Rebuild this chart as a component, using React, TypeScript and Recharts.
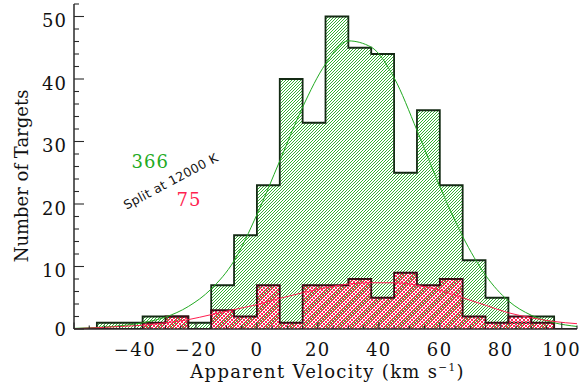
import React from "react";
import {
  ComposedChart,
  Area,
  Line,
  XAxis,
  YAxis,
  ReferenceDot,
} from "recharts";

// bin edges (km/s), each count belongs to the bin starting at that edge
const binEdges = [
  -60, -52.5, -45, -37.5, -30, -22.5, -15, -7.5, 0, 7.5, 15, 22.5, 30, 37.5,
  45, 52.5, 60, 67.5, 75, 82.5, 90, 97.5, 105,
];
const greenCounts = [
  0, 1, 1, 2, 2, 1, 7, 15, 23, 40, 33, 50, 45, 44, 25, 35, 23, 11, 5, 1, 2, 0, 0,
];
const redCounts = [
  0, 0, 0, 1, 2, 0, 3, 2, 7, 1, 7, 7, 8, 5, 9, 7, 8, 2, 1, 2, 1, 0, 0,
];
// gaussian fits at the bin edges
const greenFit = [
  0.1, 0.25, 0.5, 1.0, 1.9, 3.6, 6.4, 10.9, 18.3, 26.9, 35.5, 42.4, 46.1, 45.1,
  40.2, 31.8, 22.8, 14.8, 8.6, 4.5, 2.2, 1.0, 0.4,
];
const redFit = [
  0.05, 0.2, 0.4, 0.6, 1.0, 1.5, 2.3, 3.1, 3.9, 4.9, 5.8, 6.6, 7.2, 7.4, 7.4,
  7.0, 6.2, 5.0, 3.8, 2.6, 1.8, 1.2, 0.85,
];

const xTicks = [
  -60, -55, -50, -45, -40, -35, -30, -25, -20, -15, -10, -5, 0, 5, 10, 15, 20,
  25, 30, 35, 40, 45, 50, 55, 60, 65, 70, 75, 80, 85, 90, 95, 100, 105,
];
const yTicks = [
  0, 2, 4, 6, 8, 10, 12, 14, 16, 18, 20, 22, 24, 26, 28, 30, 32, 34, 36, 38,
  40, 42, 44, 46, 48, 50, 52,
];

const data = binEdges.map((x, i) => ({
  x,
  green: greenCounts[i],
  red: redCounts[i],
  gfit: greenFit[i],
  rfit: redFit[i],
}));

const FONT = "'DejaVu Serif', serif";
const AXIS = "#2a2a2a";
const GREEN = "#22aa22";
const RED = "#ff1f50";
const HATCH_G = "#30b030";
const HATCH_R = "#ff2a58";

const fmt = (v: number) => (v < 0 ? `\u2212${-v}` : `${v}`);

function XTick(props: any) {
  const { x, y, payload, top } = props;
  const v = payload.value;
  const major = v % 20 === 0;
  const len = major ? 6.5 : 3.5;
  const dir = top ? 1 : -1;
  return (
    <g>
      <line x1={x} x2={x} y1={y} y2={y + dir * len} stroke={AXIS} strokeWidth={1.1} />
      {!top && major && v > -60 && (
        <text
          x={x}
          y={y + 27}
          textAnchor="middle"
          fontSize={18}
          letterSpacing={1.5}
          fontFamily={FONT}
          fill="#111"
        >
          {fmt(v)}
        </text>
      )}
    </g>
  );
}

function YTick(props: any) {
  const { x, y, payload, right } = props;
  const v = payload.value;
  const major = v % 10 === 0;
  const len = major ? 10 : 5;
  const dir = right ? -1 : 1;
  return (
    <g>
      <line x1={x} x2={x + dir * len} y1={y} y2={y} stroke={AXIS} strokeWidth={1.1} />
      {!right && major && (
        <text
          x={x - 7}
          y={v === 0 ? y + 7 : y + 10.5}
          textAnchor="end"
          fontSize={18}
          letterSpacing={1}
          fontFamily={FONT}
          fill="#111"
        >
          {v}
        </text>
      )}
    </g>
  );
}

export default function App() {
  return (
    <div style={{ position: "absolute", left: 0, top: 0, width: 585, height: 385, background: "#fff" }}>
      <ComposedChart
        width={585}
        height={385}
        data={data}
        margin={{ top: 4, right: 8, left: 0, bottom: 0 }}
      >
        <defs>
          {/* pixel "/" hatching like the original raster plot */}
          <pattern id="gHatch" patternUnits="userSpaceOnUse" width={3} height={3}>
            <rect x={0} y={2} width={1} height={1} fill={HATCH_G} />
            <rect x={1} y={1} width={1} height={1} fill={HATCH_G} />
            <rect x={2} y={0} width={1} height={1} fill={HATCH_G} />
          </pattern>
          <pattern id="rHatch" patternUnits="userSpaceOnUse" width={4} height={4}>
            <rect x={0} y={3} width={1} height={1} fill={HATCH_R} />
            <rect x={1} y={2} width={1} height={1} fill={HATCH_R} />
            <rect x={2} y={1} width={1} height={1} fill={HATCH_R} />
            <rect x={3} y={0} width={1} height={1} fill={HATCH_R} />
            <rect x={0} y={0} width={1} height={1} fill={HATCH_R} />
            <rect x={1} y={1} width={1} height={1} fill={HATCH_R} />
            <rect x={2} y={2} width={1} height={1} fill={HATCH_R} />
            <rect x={3} y={3} width={1} height={1} fill={HATCH_R} />
          </pattern>
        </defs>

        <XAxis
          xAxisId="x"
          dataKey="x"
          type="number"
          domain={[-60, 105]}
          ticks={xTicks}
          interval={0}
          allowDataOverflow
          height={56}
          tickSize={0}
          tickMargin={0}
          tickLine={false}
          axisLine={{ stroke: AXIS, strokeWidth: 1.5 }}
          tick={<XTick />}
          label={{
            content: (p: any) => {
              const vb = p.viewBox;
              const cx = vb.x + vb.width / 2 + 2;
              return (
                <text
                  x={cx}
                  y={vb.y + 48.5}
                  textAnchor="middle"
                  fontSize={18}
                  letterSpacing={1.3}
                  fontFamily={FONT}
                  fill="#111"
                >
                  Apparent Velocity (km s
                  <tspan fontSize={10.5} dy={-7}>{"\u22121"}</tspan>
                  <tspan dy={7}>)</tspan>
                </text>
              );
            },
          }}
        />
        <XAxis
          xAxisId="xt"
          orientation="top"
          type="number"
          domain={[-60, 105]}
          ticks={xTicks}
          interval={0}
          allowDataOverflow
          height={0}
          tickSize={0}
          tickMargin={0}
          tickLine={false}
          axisLine={{ stroke: AXIS, strokeWidth: 1.5 }}
          tick={<XTick top />}
        />
        <YAxis
          yAxisId="y"
          type="number"
          domain={[0, 52]}
          ticks={yTicks}
          interval={0}
          allowDataOverflow
          width={74}
          tickSize={0}
          tickMargin={0}
          tickLine={false}
          axisLine={{ stroke: AXIS, strokeWidth: 1.5 }}
          tick={<YTick />}
          label={{
            content: () => (
              <text
                x={28}
                y={176}
                transform="rotate(-90 28 176)"
                textAnchor="middle"
                fontSize={18}
                fontFamily={FONT}
                fill="#111"
              >
                Number of Targets
              </text>
            ),
          }}
        />
        <YAxis
          yAxisId="yr"
          orientation="right"
          type="number"
          domain={[0, 52]}
          ticks={yTicks}
          interval={0}
          allowDataOverflow
          width={0}
          tickSize={0}
          tickMargin={0}
          tickLine={false}
          axisLine={{ stroke: AXIS, strokeWidth: 1.5 }}
          tick={<YTick right />}
        />

        <Area
          xAxisId="x"
          yAxisId="y"
          dataKey="green"
          type="stepAfter"
          fill="url(#gHatch)"
          fillOpacity={1}
          stroke="#142a14"
          strokeWidth={1.8}
          isAnimationActive={false}
          dot={false}
          activeDot={false}
        />
        <Area
          xAxisId="x"
          yAxisId="y"
          dataKey="red"
          type="stepAfter"
          fill="url(#rHatch)"
          fillOpacity={1}
          stroke="#3a0c14"
          strokeWidth={1.8}
          isAnimationActive={false}
          dot={false}
          activeDot={false}
        />
        <Line
          xAxisId="x"
          yAxisId="y"
          dataKey="gfit"
          type="monotone"
          stroke={GREEN}
          strokeWidth={1}
          dot={false}
          isAnimationActive={false}
        />
        <Line
          xAxisId="x"
          yAxisId="y"
          dataKey="rfit"
          type="monotone"
          stroke={RED}
          strokeWidth={1}
          dot={false}
          isAnimationActive={false}
        />

        <ReferenceDot
          xAxisId="x"
          yAxisId="y"
          x={-35}
          y={26.8}
          r={0}
          shape={(p: any) => (
            <text x={p.cx} y={p.cy + 6.5} textAnchor="middle" fontSize={18} letterSpacing={1} fontFamily={FONT} fill={GREEN}>
              366
            </text>
          )}
        />
        <ReferenceDot
          xAxisId="x"
          yAxisId="y"
          x={-22.3}
          y={20.7}
          r={0}
          shape={(p: any) => (
            <text x={p.cx} y={p.cy + 6.5} textAnchor="middle" fontSize={18} letterSpacing={1} fontFamily={FONT} fill={RED}>
              75
            </text>
          )}
        />
        <ReferenceDot
          xAxisId="x"
          yAxisId="y"
          x={-28.2}
          y={23.6}
          r={0}
          shape={(p: any) => (
            <text
              x={p.cx}
              y={p.cy + 4}
              transform={`rotate(-28 ${p.cx} ${p.cy})`}
              textAnchor="middle"
              fontSize={12.5}
              letterSpacing={0.3}
              fontFamily="'DejaVu Sans', sans-serif"
              fill="#111"
            >
              Split at 12000 K
            </text>
          )}
        />
      </ComposedChart>
    </div>
  );
}
